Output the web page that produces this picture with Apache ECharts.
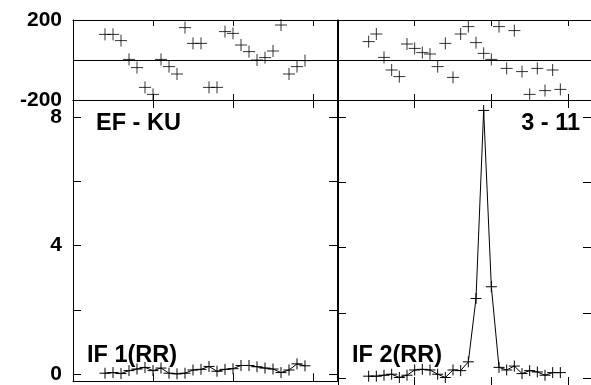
<!DOCTYPE html>
<html>
<head>
<meta charset="utf-8">
<script src="https://cdn.jsdelivr.net/npm/echarts@6/dist/echarts.min.js"></script>
<style>html,body{margin:0;padding:0;background:#fff}#c{width:591px;height:385px}</style>
</head>
<body>
<div id="c"></div>
<script>
var channels = [4,5,6,7,8,9,10,11,12,13,14,15,16,17,18,19,20,21,22,23,24,25,26,27,28,29];
var phaseIF1 = [128,128,97,3,-38,-137,-172,3,-33,-70,162,83,83,-137,-137,142,133,75,42,0,12,45,175,-70,-33,-3];
var phaseIF2 = [92,130,13,-50,-83,80,58,37,30,-33,83,-87,130,167,87,33,3,167,-42,147,-58,-172,-42,-153,-50,-147];
var ampIF1 = [0.04,0.06,0.03,0.12,0.17,0.22,0.12,0.2,0.04,0.02,0.04,0.14,0.16,0.25,0.1,0.16,0.18,0.28,0.28,0.24,0.2,0.17,0.06,0.14,0.33,0.27];
var ampIF2 = [0.06,0.06,0.09,0.12,0.02,0.09,0.25,0.27,0.25,0.12,0.02,0.25,0.23,0.5,2.44,8.2,2.8,0.33,0.25,0.37,0.14,0.23,0.19,0.09,0.17,0.17];
var phaseTicks = [-200,0,200];
var phaseLabels = [-200,200];
var ampTicks = [0,2,4,6,8];
var ampLabels = [0,4,8];
var panelTitles = ['IF 1(RR)','IF 2(RR)'];
var baselineLabel = 'EF - KU';
var scanLabel = '3 - 11';

var FONT = 'Liberation Sans, Arial, sans-serif';
var PLUS = 'path://M0,6H12M6,0V12';
function pairs(xs, ys){ return xs.map(function(x,i){return [x, ys[i]];}); }

var grids = [
  {left:73, top:20, width:264, height:80},
  {left:338, top:20, width:265, height:80},
  {left:73, top:100, width:264, height:285},
  {left:338, top:100, width:265, height:285}
];
var xAxes = [], yAxes = [];
grids.forEach(function(g, gi){
  var isTop = gi < 2;
  ['bottom','top'].forEach(function(pos){
    xAxes.push({
      type:'value', gridIndex:gi, position:pos, min:0, max:33, interval:10,
      axisLine:{show:true, onZero:false, lineStyle:{color:'#000', width:1}},
      axisTick:{show:true, inside:true, length: isTop ? 6 : 8, lineStyle:{color:'#000'}},
      axisLabel:{show:false}, splitLine:{show:false}
    });
  });
  var isLeft = (gi % 2 === 0);
  ['left','right'].forEach(function(pos){
    var primary = pos === 'left';
    var ax = {
      type:'value', gridIndex:gi, position:pos,
      axisLine:{show:true, onZero:false, lineStyle:{color:'#000', width:1}},
      axisTick:{show:true, inside:true, length:8, lineStyle:{color:'#000'}},
      axisLabel:{show: primary && isLeft, margin:11, color:'#000', fontFamily:FONT, fontWeight:'bold', fontSize:21, padding:[4,0,0,0]},
      splitLine:{show:false}
    };
    if (isTop) {
      ax.min = -200; ax.max = 200; ax.interval = 200;
      ax.axisTick.customValues = phaseTicks;
      ax.axisLabel.customValues = phaseLabels;
      if (primary) ax.splitLine = {show:true, lineStyle:{color:'#000', width:1}};
    } else {
      ax.min = -0.21; ax.max = 8.52;
      ax.axisTick.customValues = ampTicks;
      ax.axisLabel.customValues = ampLabels;
    }
    yAxes.push(ax);
  });
});

var series = [
  {type:'scatter', xAxisIndex:0, yAxisIndex:0, data:pairs(channels, phaseIF1), symbol:PLUS, symbolSize:12,
   itemStyle:{color:'transparent', borderColor:'#000', borderWidth:1}, silent:true},
  {type:'scatter', xAxisIndex:2, yAxisIndex:2, data:pairs(channels, phaseIF2), symbol:PLUS, symbolSize:12,
   itemStyle:{color:'transparent', borderColor:'#000', borderWidth:1}, silent:true},
  {type:'line', xAxisIndex:4, yAxisIndex:4, data:pairs(channels, ampIF1), symbol:PLUS, symbolSize:11, showAllSymbol:true,
   lineStyle:{color:'#000', width:1}, itemStyle:{color:'transparent', borderColor:'#000', borderWidth:1}, silent:true, animation:false},
  {type:'line', xAxisIndex:6, yAxisIndex:6, data:pairs(channels, ampIF2), symbol:PLUS, symbolSize:11, showAllSymbol:true, clip:false,
   lineStyle:{color:'#000', width:1}, itemStyle:{color:'transparent', borderColor:'#000', borderWidth:1}, silent:true, animation:false}
];

var ts = {fontFamily:FONT, fontWeight:'bold', fontSize:23.5, color:'#000'};
var option = {
  animation:false,
  backgroundColor:'#fff',
  grid:grids, xAxis:xAxes, yAxis:yAxes, series:series,
  title:[
    {text:baselineLabel, left:96, top:112, padding:0, textStyle:ts},
    {text:scanLabel, right:11, top:112, padding:0, textStyle:ts},
    {text:panelTitles[0], left:87, top:344, padding:0, textStyle:ts},
    {text:panelTitles[1], left:352, top:344, padding:0, textStyle:ts}
  ]
};
var chart = echarts.init(document.getElementById('c'), null, {renderer:'canvas'});
chart.setOption(option);
</script>
</body>
</html>
